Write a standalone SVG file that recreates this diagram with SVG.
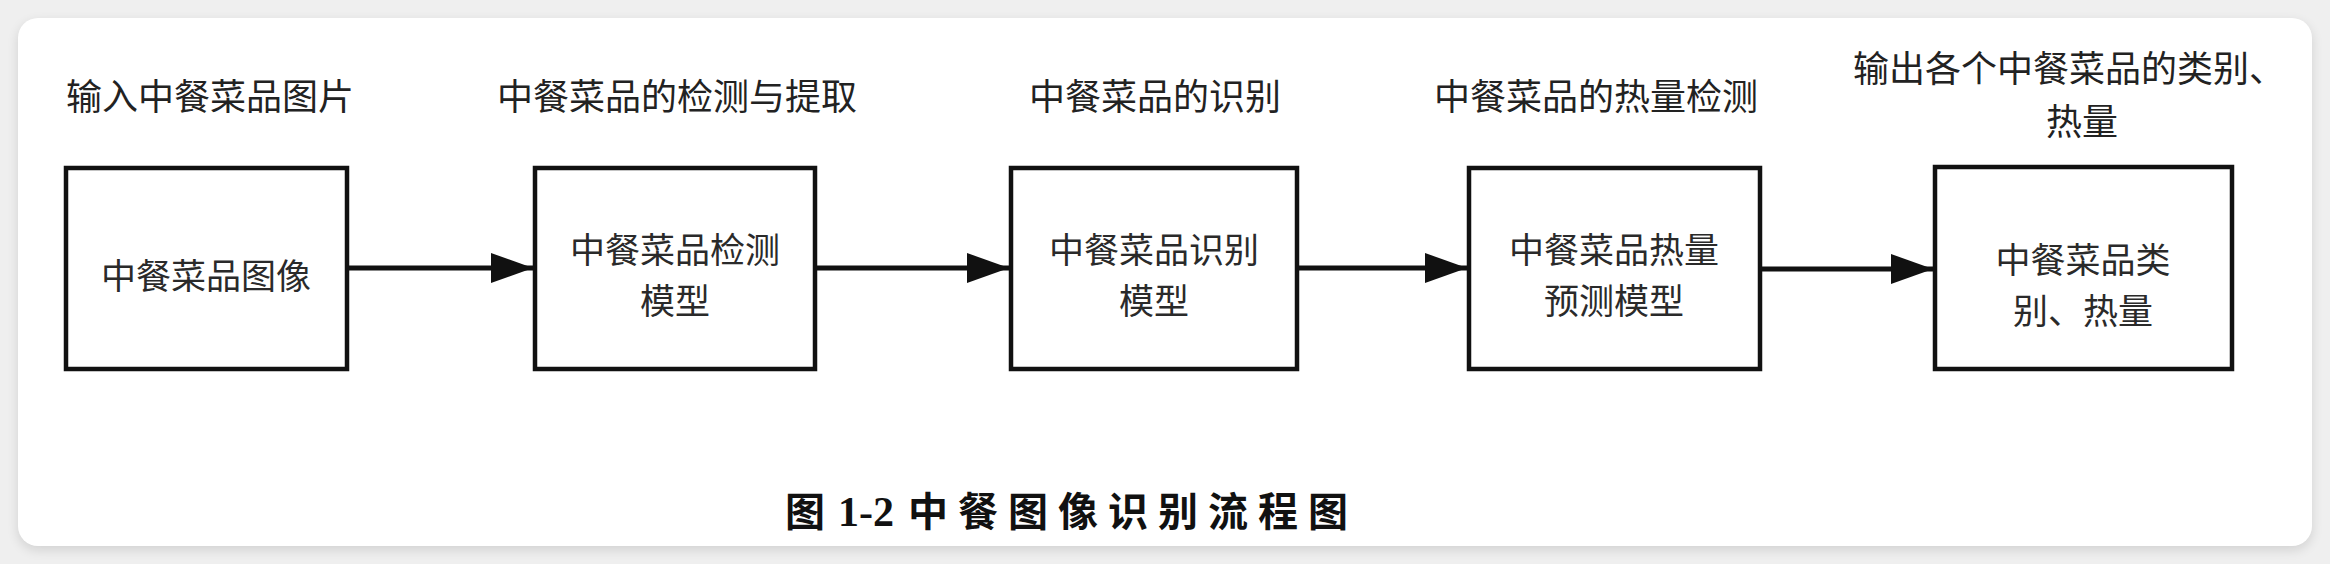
<svg xmlns="http://www.w3.org/2000/svg" width="2330" height="564" viewBox="0 0 2330 564">
  <style>
    .title { font-family: "Noto Sans CJK SC", "Liberation Sans", sans-serif; font-size: 36px; fill: #222; text-anchor: middle; }
    .label { font-family: "Noto Sans CJK SC", "Liberation Sans", sans-serif; font-size: 35px; fill: #2a2a2a; text-anchor: middle; }
    .box { fill: #fff; stroke: #111; stroke-width: 4.5; }
    .conn { stroke: #111; stroke-width: 5; fill: none; marker-end: url(#arrow); }
    .caption { font-family: "Liberation Serif", "Noto Sans CJK SC", serif; font-size: 40px; font-weight: bold; fill: #111; }
  </style>
  <defs>
    <marker id="arrow" markerUnits="userSpaceOnUse" markerWidth="44" markerHeight="32" refX="42" refY="15" orient="auto">
      <path d="M0,0 L42,15 L0,30 Z" fill="#111"/>
    </marker>
    <filter id="shadow" x="-5%" y="-10%" width="110%" height="120%">
      <feGaussianBlur stdDeviation="6"/>
    </filter>
  </defs>

  <rect x="0" y="0" width="2330" height="564" fill="#efefef"/>
  <rect x="18" y="22" width="2294" height="528" rx="20" fill="#000" opacity="0.12" filter="url(#shadow)"/>
  <rect x="18" y="18" width="2294" height="528" rx="20" fill="#fff"/>

  <g id="titles">
    <text class="title" x="210" y="110">输入中餐菜品图片</text>
    <text class="title" x="677" y="110">中餐菜品的检测与提取</text>
    <text class="title" x="1155" y="110">中餐菜品的识别</text>
    <text class="title" x="1596" y="110">中餐菜品的热量检测</text>
    <text class="title" x="2069" y="82">输出各个中餐菜品的类别、</text>
    <text class="title" x="2082" y="135">热量</text>
  </g>

  <g id="node1">
    <rect class="box" x="66" y="168" width="281" height="201"/>
    <text class="label" x="206" y="289">中餐菜品图像</text>
  </g>
  <g id="node2">
    <rect class="box" x="535" y="168" width="280" height="201"/>
    <text class="label" x="675" y="263">中餐菜品检测</text>
    <text class="label" x="675" y="314">模型</text>
  </g>
  <g id="node3">
    <rect class="box" x="1011" y="168" width="286" height="201"/>
    <text class="label" x="1154" y="263">中餐菜品识别</text>
    <text class="label" x="1154" y="314">模型</text>
  </g>
  <g id="node4">
    <rect class="box" x="1469" y="168" width="291" height="201"/>
    <text class="label" x="1614" y="263">中餐菜品热量</text>
    <text class="label" x="1614" y="314">预测模型</text>
  </g>
  <g id="node5">
    <rect class="box" x="1935" y="167" width="297" height="202"/>
    <text class="label" x="2083" y="273">中餐菜品类</text>
    <text class="label" x="2083" y="324">别、热量</text>
  </g>

  <g id="connectors">
    <line class="conn" x1="349" y1="268" x2="533" y2="268"/>
    <line class="conn" x1="817" y1="268" x2="1009" y2="268"/>
    <line class="conn" x1="1299" y1="268" x2="1467" y2="268"/>
    <line class="conn" x1="1762" y1="269" x2="1933" y2="269"/>
  </g>

  <text class="caption" y="526"><tspan x="785">图</tspan><tspan x="838" font-size="42">1-2</tspan><tspan x="908" letter-spacing="10">中餐图像识别流程图</tspan></text>
</svg>
